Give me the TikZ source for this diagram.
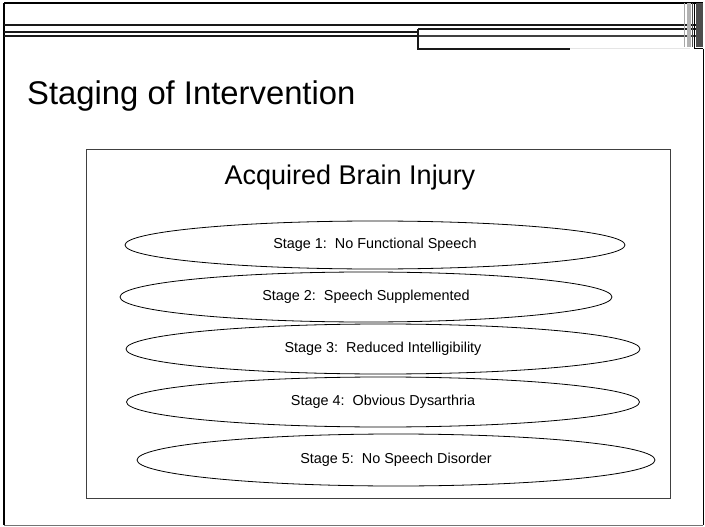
\documentclass[tikz,border=0pt]{standalone}
\usepackage{fontspec}
\setmainfont{Liberation Sans}
\usetikzlibrary{shapes.geometric}

\begin{document}
\begin{tikzpicture}[
  x=1pt, y=-1pt,
  rule/.style={line width=1.1pt, color=black!90},
  slidetitle/.style={anchor=west, font=\fontsize{32.8}{36}\selectfont, inner sep=0pt},
  heading/.style={font=\fontsize{27}{30}\selectfont, inner sep=0pt},
  panel/.style={draw=black!75, line width=0.8pt, inner sep=0pt},
  stage/.style={draw, ellipse, line width=0.8pt, inner sep=0pt, font=\fontsize{14.4}{16}\selectfont}
]
\useasboundingbox (0,0) rectangle (705,527);

% slide frame and header rules
\draw[line width=2pt] (4,3) -- (4,525);
\draw[line width=1.6pt] (4,3) -- (703,3);
\draw[line width=0.8pt, black!55] (4,525) -- (703,525);
\draw[line width=0.8pt] (703,49) -- (703,525);
\draw[rule] (4,25) -- (703,25);
\draw[rule] (4,32) -- (418,32);
\draw[rule] (4,36) -- (418,36);
\draw[rule] (418,29) -- (703,29);
\draw[line width=1.4pt, black!75] (418,36) -- (703,36);
\draw[rule] (418,29) -- (418,49) -- (570,49);
\draw[line width=1pt, black!10] (570,49) -- (690,49);
\fill[black!30] (687,3) rectangle (691,47);
\fill[black!70] (696,3) rectangle (703,47);
\draw[line width=0.8pt, black!35] (684,3) -- (684,47);
\draw[line width=0.8pt, black!70] (692.5,3) -- (692.5,47);
\draw[line width=1pt] (694.5,3) -- (694.5,49) -- (703,49);

\node[slidetitle] (title) at (27,96) {Staging of Intervention};

\node[panel, minimum width=584, minimum height=349] (panel) at (378,323.5) {};
\node[heading] (abi) at (350,178) {Acquired Brain Injury};

\node[stage, minimum width=500, minimum height=48] (s1) at (375,245) {Stage 1:~~No Functional Speech};
\node[stage, minimum width=492, minimum height=50] (s2) at (366,297) {Stage 2:~~Speech Supplemented};
\node[stage, minimum width=514, minimum height=50] (s3) at (383,349) {Stage 3:~~Reduced Intelligibility};
\node[stage, minimum width=513, minimum height=50] (s4) at (383,402) {Stage 4:~~Obvious Dysarthria};
\node[stage, minimum width=518, minimum height=52] (s5) at (396,460) {Stage 5:~~No Speech Disorder};
\end{tikzpicture}
\end{document}
